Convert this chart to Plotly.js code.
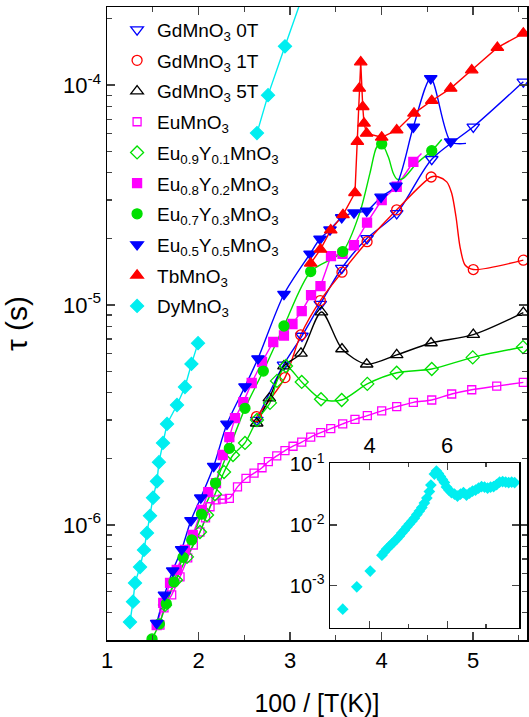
<!DOCTYPE html>
<html>
<head>
<meta charset="utf-8">
<script src="https://cdn.plot.ly/plotly-3.0.1.min.js"></script>
<style>html,body{margin:0;padding:0;background:#fff}#chart{width:529px;height:717px}</style>
</head>
<body>
<div id="chart"></div>
<script>
// ---- data: x = 100/[T(K)], tau in seconds ----
const GD0_X = [2.637,2.929,3.131,3.331,3.565,3.842,4.166,4.549,5.003,5.550];
const GD0_TAU = [3.00e-6,5.34e-6,7.23e-6,1.01e-5,1.47e-5,2.01e-5,2.61e-5,4.60e-5,6.46e-5,1.035e-4];

const GD1_X = [2.634,2.945,3.117,3.331,3.568,3.842,4.166,4.543,5.003,5.550];
const GD1_TAU = [3.11e-6,4.68e-6,7.31e-6,1.048e-5,1.41e-5,1.94e-5,2.71e-5,3.82e-5,1.45e-5,1.60e-5];
const GD1_FIT_X = [4.617,4.713,4.767,4.814,4.858,4.913];
const GD1_FIT_TAU = [3.83e-5,3.63e-5,3.22e-5,2.52e-5,1.84e-5,1.52e-5];

const GD5_X = [2.636,2.774,2.934,3.120,3.344,3.568,3.838,4.166,4.541,5.003,5.550];
const GD5_TAU = [2.90e-6,3.77e-6,5.28e-6,6.03e-6,9.29e-6,6.31e-6,5.38e-6,5.93e-6,6.72e-6,7.33e-6,9.23e-6];

const EU_X = [1.579,1.623,1.707,1.798,1.882,1.943,2.016,2.077,2.126,2.191,2.262,2.337,2.426,2.519,2.607,2.694,2.763,2.855,2.945,3.033,3.128,3.226,3.336,3.445,3.576,3.710,3.845,4.002,4.166,4.348,4.549,4.767,4.986,5.259,5.550];
const EU_TAU = [3.51e-7,4.20e-7,4.81e-7,5.81e-7,7.08e-7,8.11e-7,9.29e-7,1.076e-6,1.21e-6,1.30e-6,1.31e-6,1.32e-6,1.49e-6,1.63e-6,1.72e-6,1.82e-6,1.94e-6,2.06e-6,2.18e-6,2.28e-6,2.38e-6,2.51e-6,2.63e-6,2.74e-6,2.88e-6,3.02e-6,3.14e-6,3.30e-6,3.45e-6,3.61e-6,3.70e-6,3.94e-6,4.12e-6,4.28e-6,4.45e-6];

const EU09_X = [1.634,1.754,1.874,2.016,2.093,2.180,2.279,2.377,2.508,2.639,2.781,2.858,2.956,3.128,3.339,3.565,3.845,4.166,4.549,4.997,5.546];
const EU09_TAU = [4.33e-7,5.62e-7,7.16e-7,9.29e-7,1.11e-6,1.38e-6,1.74e-6,2.08e-6,2.36e-6,3.00e-6,3.59e-6,4.52e-6,5.28e-6,4.47e-6,3.73e-6,3.70e-6,4.38e-6,4.92e-6,5.12e-6,5.78e-6,6.44e-6];

const EU08_X = [1.543,1.615,1.689,1.762,1.852,1.937,2.035,2.107,2.191,2.264,2.337,2.399,2.490,2.581,2.694,2.817,2.934,3.027,3.128,3.230,3.333,3.448,3.574,3.699,3.842,4.002,4.166,4.348];
const EU08_TAU = [3.51e-7,4.42e-7,5.45e-7,6.25e-7,7.70e-7,9.01e-7,1.17e-6,1.41e-6,1.55e-6,2.08e-6,2.51e-6,3.06e-6,3.62e-6,4.42e-6,5.51e-6,6.79e-6,7.27e-6,8.20e-6,9.39e-6,1.11e-5,1.22e-5,1.67e-5,1.71e-5,1.87e-5,2.37e-5,3.00e-5,3.45e-5,4.48e-5];
const EU08_FIT_X = [4.437];
const EU08_FIT_TAU = [4.89e-5];

const EU07_X = [1.492,1.572,1.648,1.732,1.831,1.926,2.033,2.186,2.337,2.508,2.708,2.934,3.226,3.576,4.002,4.549];
const EU07_TAU = [3.03e-7,3.55e-7,4.38e-7,5.51e-7,7.13e-7,8.55e-7,1.12e-6,1.55e-6,2.23e-6,3.39e-6,5.01e-6,8.03e-6,1.42e-5,1.75e-5,5.40e-5,5.03e-5];
const EU07_FIT_X = [3.765,3.874,3.948,4.074,4.129,4.169,4.238,4.385,4.658];
const EU07_FIT_TAU = [2.65e-5,3.98e-5,5.23e-5,4.72e-5,3.97e-5,3.74e-5,3.77e-5,4.41e-5,5.66e-5];

const EU05_X = [1.543,1.628,1.718,1.816,1.918,2.025,2.166,2.311,2.508,2.650,2.934,3.219,3.328,3.437,3.565,3.699,3.838,3.995,4.158,4.348,4.538,4.756];
const EU05_TAU = [3.58e-7,4.81e-7,6.20e-7,7.75e-7,1.05e-6,1.33e-6,1.85e-6,2.88e-6,4.26e-6,5.71e-6,1.12e-5,1.71e-5,2.0e-5,2.20e-5,2.50e-5,2.63e-5,2.68e-5,3.10e-5,3.48e-5,6.46e-5,1.073e-4,5.53e-5];
const EU05_FIT_X = [4.923];
const EU05_FIT_TAU = [5.43e-5];

const TB_X = [3.226,3.333,3.445,3.579,3.710,3.736,3.757,3.773,3.795,3.809,3.838,4.002,4.166,4.355,4.549,4.756,4.986,5.266,5.550];
const TB_TAU = [1.547e-5,1.79e-5,2.19e-5,2.57e-5,3.24e-5,5.53e-5,9.66e-5,1.272e-4,7.97e-5,6.70e-5,6.03e-5,5.79e-5,6.24e-5,7.44e-5,8.49e-5,9.66e-5,1.17e-4,1.48e-4,1.72e-4];

const DY_LOW_X = [1.251,1.284,1.306,1.361,1.404,1.437,1.470,1.503,1.546,1.568,1.612,1.656,1.765,1.852,1.923,1.995];
const DY_LOW_TAU = [3.62e-7,4.48e-7,5.45e-7,6.44e-7,7.70e-7,9.20e-7,1.10e-6,1.33e-6,1.58e-6,1.93e-6,2.36e-6,2.88e-6,3.51e-6,4.24e-6,5.40e-6,6.71e-6];
const DY_HIGH_X = [2.639,2.760,2.945,3.160];
const DY_HIGH_TAU = [6.05e-5,9.0e-5,1.50e-4,2.70e-4];

// inset: DyMnO3 over the wider range
const INSET_X = [3.308,3.670,4.016,4.317,4.376,4.441,4.506,4.570,4.635,4.700,4.764,4.829,4.894,4.958,5.023,5.088,5.152,5.217,5.282,5.346,5.411,5.475,5.540,5.579,5.669,5.721,5.773,5.825,5.876,5.928,5.980,6.044,6.109,6.187,6.264,6.342,6.419,6.497,6.575,6.652,6.730,6.807,6.885,6.962,7.040,7.118,7.195,7.273,7.350,7.428,7.506,7.583,7.661,7.738];
const INSET_TAU = [4.13e-4,9.62e-4,1.75e-3,3.20e-3,3.59e-3,4.02e-3,4.42e-3,4.86e-3,5.35e-3,5.88e-3,6.58e-3,7.38e-3,8.26e-3,9.27e-3,1.04e-2,1.16e-2,1.30e-2,1.49e-2,1.70e-2,1.94e-2,2.30e-2,2.78e-2,3.56e-2,4.56e-2,6.91e-2,7.74e-2,7.05e-2,6.29e-2,5.61e-2,5.01e-2,4.23e-2,3.77e-2,3.43e-2,3.24e-2,3.00e-2,3.24e-2,3.43e-2,3.12e-2,3.37e-2,3.63e-2,3.77e-2,4.06e-2,4.30e-2,4.23e-2,4.06e-2,4.23e-2,4.30e-2,4.65e-2,5.11e-2,5.20e-2,5.11e-2,5.01e-2,5.11e-2,5.01e-2];

// ---- helpers ----
function merge(xa, ya, xb, yb) {
  const pts = xa.map((x, i) => [x, ya[i]]).concat(xb.map((x, i) => [x, yb[i]]));
  pts.sort((a, b) => a[0] - b[0]);
  return [pts.map(p => p[0]), pts.map(p => p[1])];
}

const BLUE = '#0000ff', RED = '#ff0000', BLACK = '#000000', MAG = '#ff00ff', GREEN = '#00e000', CYAN = '#00eef0';

const series = [
  {name: 'GdMnO<sub>3</sub> 0T', x: GD0_X, y: GD0_TAU, color: BLUE, symbol: 'triangle-down-open', size: 11, shape: 'spline'},
  {name: 'GdMnO<sub>3</sub> 1T', x: GD1_X, y: GD1_TAU, color: RED, symbol: 'circle-open', size: 10, shape: 'spline', fit: [GD1_FIT_X, GD1_FIT_TAU]},
  {name: 'GdMnO<sub>3</sub> 5T', x: GD5_X, y: GD5_TAU, color: BLACK, symbol: 'triangle-up-open', size: 11, shape: 'spline'},
  {name: 'EuMnO<sub>3</sub>', x: EU_X, y: EU_TAU, color: MAG, symbol: 'square-open', size: 8, shape: 'spline'},
  {name: 'Eu<sub>0.9</sub>Y<sub>0.1</sub>MnO<sub>3</sub>', x: EU09_X, y: EU09_TAU, color: GREEN, symbol: 'diamond-open', size: 10, shape: 'spline'},
  {name: 'Eu<sub>0.8</sub>Y<sub>0.2</sub>MnO<sub>3</sub>', x: EU08_X, y: EU08_TAU, color: MAG, symbol: 'square', size: 9, shape: 'linear', fit: [EU08_FIT_X, EU08_FIT_TAU]},
  {name: 'Eu<sub>0.7</sub>Y<sub>0.3</sub>MnO<sub>3</sub>', x: EU07_X, y: EU07_TAU, color: GREEN, symbol: 'circle', size: 10, shape: 'spline', fit: [EU07_FIT_X, EU07_FIT_TAU]},
  {name: 'Eu<sub>0.5</sub>Y<sub>0.5</sub>MnO<sub>3</sub>', x: EU05_X, y: EU05_TAU, color: BLUE, symbol: 'triangle-down', size: 11, shape: 'spline', fit: [EU05_FIT_X, EU05_FIT_TAU]},
  {name: 'TbMnO<sub>3</sub>', x: TB_X, y: TB_TAU, color: RED, symbol: 'triangle-up', size: 11, shape: 'linear'},
  {name: 'DyMnO<sub>3</sub>', x: DY_LOW_X.concat([null], DY_HIGH_X), y: DY_LOW_TAU.concat([null], DY_HIGH_TAU), color: CYAN, symbol: 'diamond', size: 10, shape: 'linear'}
];

const traces = [];
series.forEach(s => {
  let lx = s.x, ly = s.y;
  if (s.fit) { [lx, ly] = merge(s.x, s.y, s.fit[0], s.fit[1]); }
  traces.push({x: lx, y: ly, mode: 'lines', type: 'scatter', showlegend: false, hoverinfo: 'skip',
    line: {color: s.color, width: 1.4, shape: s.shape, smoothing: 0.8}, connectgaps: false});
});
series.forEach((s, i) => {
  traces.push({x: s.x, y: s.y, mode: 'markers', type: 'scatter', name: s.name, legendgroup: 'g' + i,
    marker: {symbol: s.symbol, size: s.size, color: s.color, line: {color: s.color, width: 1.3}}});
});
traces.push({x: INSET_X, y: INSET_TAU, xaxis: 'x2', yaxis: 'y2', mode: 'markers', type: 'scatter', showlegend: false,
  marker: {symbol: 'diamond', size: 9, color: CYAN}});

const minorY = [];
for (let e = -7; e <= -4; e++) for (let d = 2; d <= 9; d++) minorY.push(d * Math.pow(10, e));

const FONT = 'Liberation Sans, Arial, sans-serif';
const layout = {
  width: 529, height: 717,
  margin: {l: 107, r: 2, t: 7, b: 77},
  paper_bgcolor: '#fff', plot_bgcolor: 'rgba(0,0,0,0)',
  font: {family: FONT, color: '#000'},
  showlegend: true,
  legend: {x: 0.024, y: 0.994, xanchor: 'left', yanchor: 'top', bgcolor: 'rgba(0,0,0,0)',
    font: {size: 19, family: FONT}, tracegroupgap: 3, itemwidth: 30},
  xaxis: {domain: [0, 1], range: [1, 5.59], tickvals: [1, 2, 3, 4, 5], ticks: 'inside', ticklen: 8, tickwidth: 1.3,
    showline: true, linewidth: 1.5, linecolor: '#000', mirror: 'ticks', zeroline: false, showgrid: false,
    tickfont: {size: 22}, title: {text: '100 / [T(K)]', font: {size: 25}, standoff: 22},
    minor: {dtick: 0.5, ticks: 'inside', ticklen: 5, tickwidth: 1.2, showgrid: false}},
  yaxis: {type: 'log', range: [-6.523, -3.645], tickvals: [1e-6, 1e-5, 1e-4],
    ticktext: ['10<sup>-6</sup>', '10<sup>-5</sup>', '10<sup>-4</sup>'], ticks: 'inside', ticklen: 8, tickwidth: 1.3,
    showline: true, linewidth: 1.5, linecolor: '#000', mirror: 'ticks', zeroline: false, showgrid: false,
    tickfont: {size: 22}, title: {text: 'τ (s)', font: {size: 30}, standoff: 30},
    minor: {tickvals: minorY, ticks: 'inside', ticklen: 5, tickwidth: 1.2, showgrid: false}},
  xaxis2: {domain: [0.531, 0.981], anchor: 'y2', side: 'top', range: [2.98, 7.85], tickvals: [4, 6],
    ticks: 'inside', ticklen: 7, tickwidth: 1.3, showline: true, linewidth: 1.5, linecolor: '#000', mirror: 'ticks',
    zeroline: false, showgrid: false, tickfont: {size: 22},
    minor: {dtick: 1, ticks: 'inside', ticklen: 4, tickwidth: 1.2, showgrid: false}},
  yaxis2: {domain: [0.0194, 0.279], anchor: 'x2', type: 'log', range: [-3.69, -0.984], tickvals: [1e-3, 1e-2, 1e-1],
    ticktext: ['10<sup>-3</sup>', '10<sup>-2</sup>', '10<sup>-1</sup>'], ticks: 'inside', ticklen: 7, tickwidth: 1.3,
    showline: true, linewidth: 1.5, linecolor: '#000', mirror: 'ticks', zeroline: false, showgrid: false,
    tickfont: {size: 20}}
};

Plotly.newPlot('chart', traces, layout, {displayModeBar: false, staticPlot: true});
</script>
</body>
</html>
